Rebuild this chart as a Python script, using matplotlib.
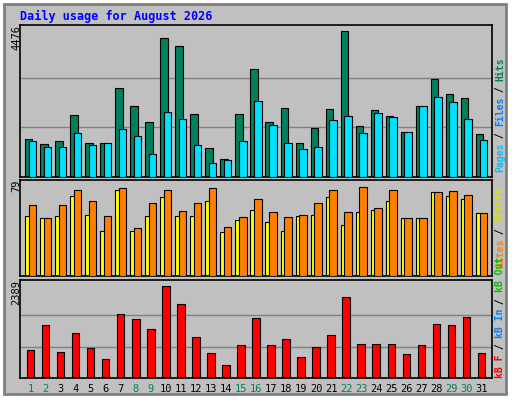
import numpy as np
import matplotlib.pyplot as plt
from matplotlib.patches import Rectangle

days = np.arange(1, 32)
weekend = [1, 2, 8, 9, 15, 16, 22, 23, 29, 30]

hits = [1140, 990, 1080, 1890, 1020, 1020, 2700, 2160, 1650, 4200, 3960, 1920, 870, 540, 1920,
        3270, 1650, 2100, 1020, 1470, 2070, 4410, 1530, 2040, 1860, 1350, 2160, 2970, 2520, 2400, 1290]
files = [1080, 900, 900, 1320, 960, 1020, 1440, 1230, 690, 1980, 1770, 960, 420, 510, 1080,
         2310, 1560, 1020, 840, 900, 1740, 1860, 1320, 1950, 1830, 1350, 2160, 2430, 2280, 1770, 1110]
visits = [54, 52, 54, 72, 55, 40, 77, 40, 54, 71, 54, 54, 67, 39, 50, 59, 48, 40, 54, 55,
          71, 46, 57, 59, 67, 52, 52, 75, 72, 69, 56]
sites = [64, 52, 64, 77, 67, 54, 79, 43, 65, 77, 58, 65, 79, 44, 53, 69, 57, 53, 55, 65,
         77, 57, 80, 61, 77, 52, 52, 75, 76, 73, 56]
kbytes = [730, 1370, 680, 1170, 780, 500, 1660, 1540, 1280, 2389, 1930, 1070, 650, 340, 860,
          1560, 860, 1020, 550, 810, 1120, 2110, 880, 880, 880, 620, 860, 1400, 1370, 1590, 650]

W, H = 512, 400
fig = plt.figure(figsize=(W / 100, H / 100), dpi=100)
fig.patch.set_facecolor('white')
bg = Rectangle((4 / W, 6 / H), 502 / W, 390 / H, transform=fig.transFigure,
               facecolor='#c0c0c0', edgecolor='#808080', lw=2, zorder=-5)
fig.patches.append(bg)

mono = 'DejaVu Sans Mono'
fig.text(20 / W, 1 - 16 / H, 'Daily usage for August 2026', color='#0000ff',
         family=mono, fontweight='bold', fontsize=8.5, va='center')

def panel(top, bottom):
    ax = fig.add_axes([20 / W, 1 - bottom / H, 472 / W, (bottom - top) / H])
    ax.set_facecolor('#c0c0c0')
    ax.set_xlim(0.3, 31.7)
    ax.set_xticks([])
    ax.set_yticks([])
    for s in ax.spines.values():
        s.set_linewidth(1.2)
    return ax

def pair(ax, a, b, ca, cb, ymax, grids):
    for g in grids:
        ax.axhline(g, color='#808080', lw=1, zorder=0)
    ax.bar(days - 0.12, a, width=0.5, color=ca, edgecolor='black', lw=0.8, zorder=2)
    ax.bar(days + 0.12, b, width=0.5, color=cb, edgecolor='black', lw=0.8, zorder=3)
    ax.set_ylim(0, ymax)

ax1 = panel(25, 177)
pair(ax1, hits, files, '#00805c', '#00e0ff', 4600, [1500, 3000])
ax2 = panel(180, 276)
pair(ax2, visits, sites, '#ffff00', '#ff8000', 86, [])
ax3 = panel(280, 378)
ax3.bar(days, kbytes, width=0.5, color='#ff0000', edgecolor='black', lw=0.8, zorder=2)
for g in [800, 1650]:
    ax3.axhline(g, color='#808080', lw=1, zorder=0)
ax3.set_ylim(0, 2550)

for label, y in [('4476', 25), ('79', 180), ('2389', 280)]:
    fig.text(16 / W, 1 - y / H, label, rotation=90, family=mono, fontsize=7.5,
             ha='center', va='top')

def side(parts, y0):
    y = y0
    for t, c in parts:
        fig.text(500 / W, 1 - y / H, t, rotation=90, family=mono, fontsize=7,
                 color=c, ha='center', va='bottom', fontweight='bold')
        y -= len(t) * 5.7
side([('Pages', '#00c0ff'), (' / ', 'black'), ('Files', '#0080ff'), (' / ', 'black'), ('Hits', '#00805c')], 172)
side([('Sites', '#ff8000'), (' / ', 'black'), ('Visits', '#e0e000')], 268)
side([('kB F', '#ff0000'), (' / ', 'black'), ('kB In', '#0080ff'), (' / ', 'black'), ('kB Out', '#00c000')], 378)

for d in days:
    x = 20 + (d - 0.3) / 31.4 * 472
    fig.text(x / W, 1 - 389 / H, str(d), family=mono, fontsize=7.5, ha='center', va='center',
             color='#00805c' if d in weekend else 'black')

fig.savefig('out.png', dpi=100)
